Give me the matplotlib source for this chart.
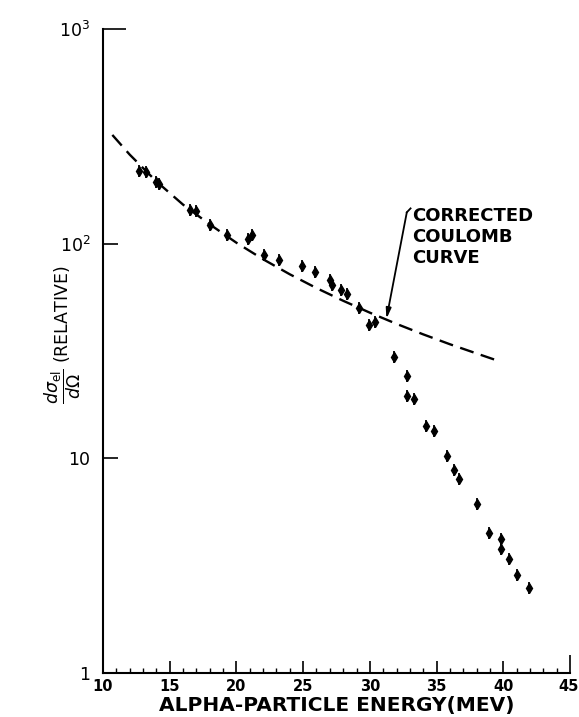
import matplotlib.pyplot as plt
from matplotlib.ticker import FixedLocator, NullLocator, MultipleLocator
from matplotlib.transforms import ScaledTranslation

# measured elastic cross section (relative) vs alpha energy
energy = [12.7, 13.2, 14.0, 14.2, 16.5, 17.0, 18.0, 19.3, 20.9, 21.2,
          22.1, 23.2, 24.9, 25.9, 27.0, 27.2, 27.8, 28.3, 29.2, 29.9,
          30.4, 31.8, 32.8, 32.8, 33.3, 34.2, 34.8, 35.8, 36.3, 36.7,
          38.0, 38.9, 39.8, 39.8, 40.4, 41.0, 41.9]
sigma = [218, 215, 194, 190, 143, 142, 122, 110, 105, 110,
         88.5, 84, 78.7, 74, 67.5, 64, 61, 58, 50, 42,
         43, 29.5, 24.2, 19.5, 18.8, 14.1, 13.4, 10.3, 8.8, 8.0,
         6.1, 4.5, 4.2, 3.8, 3.4, 2.85, 2.5]

# corrected Coulomb curve
curve_e = [10.7, 12, 14, 16, 18, 20, 22, 24, 26, 28, 30, 32, 34, 36, 38, 39.8]
curve_s = [321, 260, 195, 152, 123, 101, 84.6, 72, 62.1, 54.2, 47.7, 42.3,
           37.8, 34.0, 30.8, 28.2]

arrow_e = 31.24
arrow_s = 44.6

xticks = [10, 15, 20, 25, 30, 35, 40, 45]
yticks = [1, 10, 100, 1000]
ylabels = ["1", "10", r"$10^2$", r"$10^3$"]

fig = plt.figure(figsize=(5.79, 7.17), dpi=100)
ax = fig.add_axes([103 / 579, 44 / 717, 467 / 579, 644 / 717])

ax.plot(curve_e, curve_s, color="black", lw=1.7, linestyle=(0, (6, 3.2)))
ax.plot(energy, sigma, linestyle="none", marker="|", ms=8, mew=1.3, color="black")
ax.plot(energy, sigma, linestyle="none", marker="d", ms=5.5, color="black")

ax.set_yscale("log")
ax.set_xlim(10, 45)
ax.set_ylim(1, 1000)

ax.spines["top"].set_visible(False)
ax.spines["right"].set_visible(False)
for s in ("left", "bottom"):
    ax.spines[s].set_linewidth(1.5)

ax.xaxis.set_major_locator(FixedLocator(xticks))
ax.xaxis.set_minor_locator(MultipleLocator(1))
ax.yaxis.set_major_locator(FixedLocator(yticks))
ax.yaxis.set_minor_locator(NullLocator())
ax.set_xticklabels([str(t) for t in xticks])
ax.set_yticklabels(ylabels)

ax.tick_params(axis="x", which="major", direction="in", length=8.5, width=1.2,
               labelsize=10.5, pad=4)
ax.tick_params(axis="x", which="minor", direction="in", length=3.6, width=1.0)
ax.tick_params(axis="y", which="major", direction="in", length=11, width=1.2,
               labelsize=12.5, pad=9)
xlabs = ax.get_xticklabels()
for lab in xlabs:
    lab.set_fontweight("bold")
# keep the last label inside the figure
xlabs[-1].set_horizontalalignment("right")
xlabs[-1].set_transform(xlabs[-1].get_transform()
                        + ScaledTranslation(6 / 72, 0, fig.dpi_scale_trans))

# longer marks at the top of the y axis and the right end of the x axis
ax.yaxis.get_major_ticks()[-1].tick1line.set_markersize(16.5)
ax.xaxis.get_major_ticks()[-1].tick1line.set_markersize(13)

ax.set_xlabel("ALPHA-PARTICLE ENERGY(MEV)", fontsize=14.5, fontweight="bold")
ax.xaxis.set_label_coords(0.5, -0.036)

fig.text(63 / 579, 1 - 335 / 717,
         r"$\dfrac{d\sigma_{\mathrm{el}}}{d\Omega}$ (RELATIVE)",
         rotation=90, ha="center", va="center", fontsize=12.5)

ax.annotate("", xy=(arrow_e, arrow_s), xytext=(32.77, 140),
            arrowprops=dict(arrowstyle="-|>,head_length=0.6,head_width=0.15",
                            color="black", lw=1.3, shrinkA=0, shrinkB=0))
ax.plot([32.77, 33.05], [140, 146], color="black", lw=1.3)
ax.text(33.2, 148, "CORRECTED\nCOULOMB\nCURVE", fontsize=13, fontweight="bold",
        ha="left", va="top", linespacing=1.2)

fig.savefig("out.png", dpi=100)
